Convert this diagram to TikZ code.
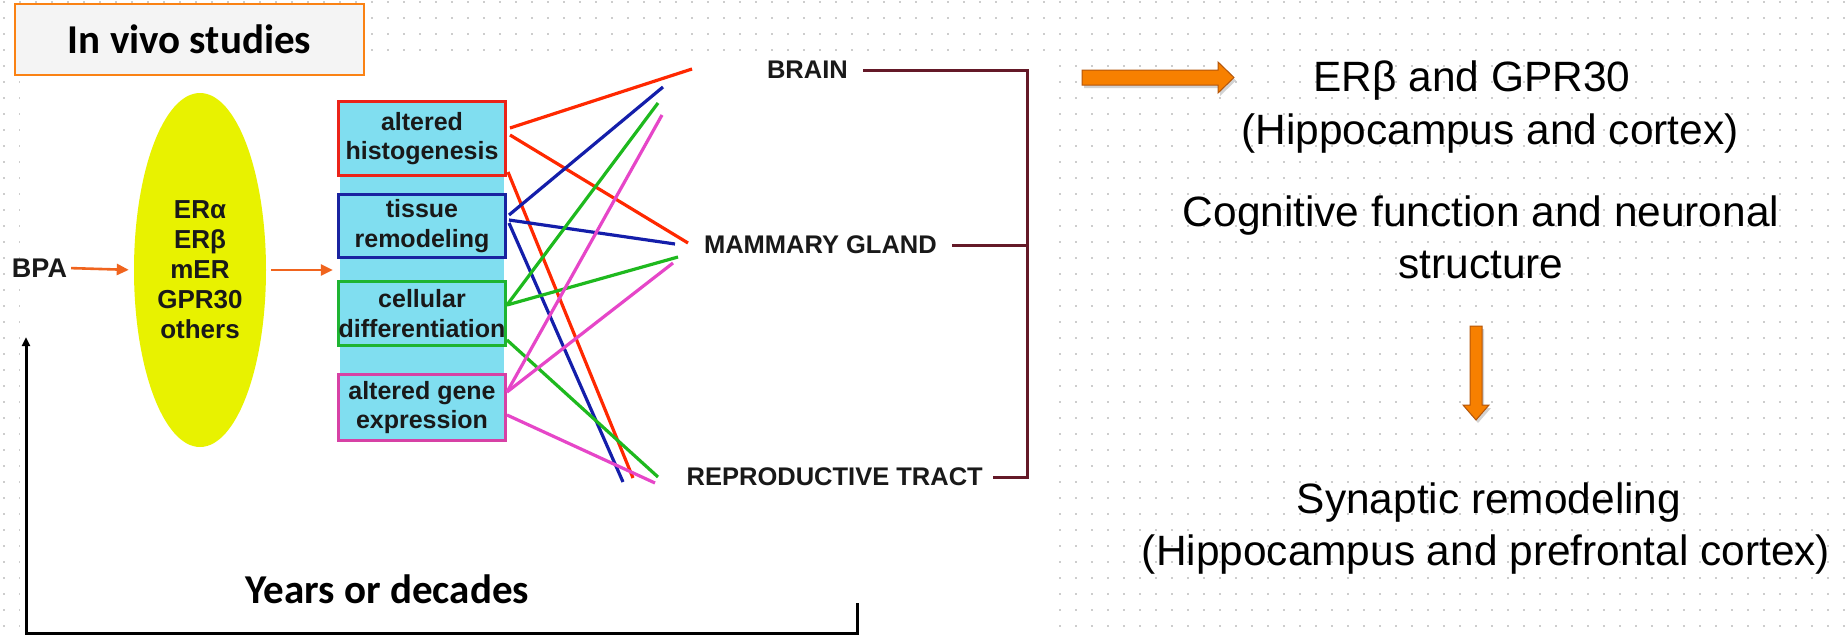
\documentclass[tikz,border=0pt]{standalone}
\usepackage{fontspec}
\setmainfont{Liberation Sans}
\newfontfamily\carlito{Carlito}
\usetikzlibrary{arrows.meta,shadows,calc,shapes.geometric}
\definecolor{yel}{RGB}{232,242,0}
\definecolor{cyanbox}{RGB}{128,222,240}
\definecolor{bred}{RGB}{235,35,25}
\definecolor{bblue}{RGB}{25,35,160}
\definecolor{bgreen}{RGB}{30,180,50}
\definecolor{bmag}{RGB}{215,65,165}
\definecolor{lred}{RGB}{255,40,0}
\definecolor{lblue}{RGB}{20,30,170}
\definecolor{lgreen}{RGB}{30,185,30}
\definecolor{lmag}{RGB}{230,70,200}
\definecolor{maroon}{RGB}{100,25,40}
\definecolor{aorange}{RGB}{240,100,30}
\definecolor{borange}{RGB}{247,128,0}
\definecolor{dorange}{RGB}{180,85,10}
\definecolor{dotgray}{RGB}{205,205,205}
\definecolor{vivoedge}{RGB}{250,130,20}
\definecolor{vivofill}{RGB}{244,244,244}
\definecolor{txt}{RGB}{25,25,25}
\begin{document}
\begin{tikzpicture}[x=1pt,y=-1pt,
  fx/.style={draw=#1, line width=3pt, fill=cyanbox, minimum width=167pt, inner sep=0pt, align=center, text=txt, font=\bfseries\fontsize{25}{29.5}\selectfont},
  cl/.style={draw=#1, line width=3.2pt},
  oarr/.style={draw=aorange, line width=2.6pt, -{Triangle[length=12pt,width=11pt]}},
  lab/.style={anchor=east, inner sep=0pt, text=txt, font=\bfseries\fontsize{25.5}{30}\selectfont},
  rtxt/.style={anchor=base, inner sep=0pt, font=\fontsize{42.4}{48}\selectfont},
  brk/.style={draw=maroon, line width=3pt},
  blockarrow/.style={fill=borange, draw=dorange, line width=1pt, drop shadow={opacity=0.35, shadow xshift=2pt, shadow yshift=-3pt}}
]
\useasboundingbox (0,0) rectangle (1847,637);
\fill[white] (0,0) rectangle (1847,637);
% dotted background
\foreach \k in {0,...,39}{
  \draw[dotgray, line width=1.6pt, dash pattern=on 1.6pt off 14.4pt] (3.2,2+16*\k) -- (1847,2+16*\k);
}
\fill[white] (20,58) rectangle (1045,637);

% In vivo box
\node[draw=vivoedge, line width=1.5pt, fill=vivofill, minimum width=349pt, minimum height=71pt, inner sep=0pt,
      font=\carlito\bfseries\fontsize{41}{45}\selectfont] (vivo) at (189.5,39.5) {In vivo studies};

% BPA and receptors
\node[inner sep=0pt, text=txt, font=\bfseries\fontsize{27}{32}\selectfont] (bpa) at (39.5,268) {BPA};
\node[ellipse, fill=yel, minimum width=132pt, minimum height=354pt, inner sep=0pt, align=center, text=txt,
      font=\bfseries\fontsize{26}{30}\selectfont] (ell) at (200,270) {ERα\\ERβ\\mER\\GPR30\\others};
\draw[oarr, shorten <=4pt, shorten >=5pt] (bpa.east) -- (ell.west);

% effects column
\node[fill=cyanbox, minimum width=164pt, minimum height=340pt, inner sep=0pt] (cbg) at (422,271) {};
\draw[oarr, shorten <=5pt, shorten >=7pt] (ell.east) -- (ell.east -| cbg.west);
\node[fx=bred, minimum height=74pt] (b1) at (422,138.5) {altered\\histogenesis};
\node[fx=bblue, minimum height=63pt] (b2) at (422,226) {tissue\\remodeling};
\node[fx=bgreen, minimum height=64pt] (b3) at (422,313.5) {cellular\\differentiation};
\node[fx=bmag, minimum height=66pt] (b4) at (422,407.5) {altered gene\\expression};

% organ labels
\node[lab] (brain) at (848,70) {BRAIN};
\node[lab] (mam) at (937,245) {MAMMARY GLAND};
\node[lab] (repro) at (983,477) {REPRODUCTIVE TRACT};

% line end points
\coordinate (tR) at (692,69);
\coordinate (tB) at (663,87);
\coordinate (tG) at (658,103);
\coordinate (tM) at (662,115);
\coordinate (mR) at (688,243);
\coordinate (mB) at (675,244);
\coordinate (mG) at (678,257);
\coordinate (mM) at (673,263);
\coordinate (rR) at (633,478);
\coordinate (rB) at (623,482);
\coordinate (rG) at (658,477);
\coordinate (rM) at (655,483);

% colored connections
\draw[cl=lred] ($(b1.east)+(3,-10.5)$) -- (tR);
\draw[cl=lred] ($(b1.east)+(3,-3.5)$) -- (mR);
\draw[cl=lred] ($(b1.east)+(1,33.5)$) -- (rR);
\draw[cl=lblue] ($(b2.east)+(2,-11)$) -- (tB);
\draw[cl=lblue] ($(b2.east)+(2,-6)$) -- (mB);
\draw[cl=lblue] ($(b2.east)+(2,-3)$) -- (rB);
\draw[cl=lgreen] ($(b3.east)+(0,-8.5)$) -- (tG);
\draw[cl=lgreen] ($(b3.east)+(0,-8.5)$) -- (mG);
\draw[cl=lgreen] ($(b3.east)+(0,26.5)$) -- (rG);
\draw[cl=lmag] ($(b4.east)+(0,-15.5)$) -- (tM);
\draw[cl=lmag] ($(b4.east)+(0,-15.5)$) -- (mM);
\draw[cl=lmag] ($(b4.east)+(0,7.5)$) -- (rM);

% bracket
\coordinate (bk) at (1027,0);
\draw[brk] ($(brain.east)+(15,0)$) -- (brain.east -| bk) -- (repro.east -| bk) -- ($(repro.east)+(10,0)$);
\draw[brk] ($(mam.east)+(15,0)$) -- (mam.east -| bk);

% feedback loop
\coordinate (fbRtop) at (857,603);
\coordinate (fbR) at (857,633);
\coordinate (fbL) at (26,633);
\coordinate (fbTop) at (26,337);
\draw[line width=3pt, -{Triangle[length=9pt,width=8pt]}] (fbRtop) -- (fbR) -- (fbL) -- (fbTop);
\node[anchor=base, inner sep=0pt, font=\carlito\bfseries\fontsize{41}{45}\selectfont] (years) at (387.5,603) {Years or decades};

% right side
\fill[blockarrow] (1082,70) -- (1218,70) -- (1218,62) -- (1234,77.5) -- (1218,93) -- (1218,85) -- (1082,85) -- cycle;
\node[rtxt] (erb) at (1472,91) {ERβ and GPR30};
\node[rtxt] (hc1) at (1490,144) {(Hippocampus and cortex)};
\node[rtxt] (cog) at (1481,226) {Cognitive function and neuronal};
\node[rtxt] (str) at (1481,278) {structure};
\fill[blockarrow] (1470,326) -- (1482,326) -- (1482,405) -- (1489,405) -- (1476,420) -- (1463,405) -- (1470,405) -- cycle;
\node[rtxt] (syn) at (1489,513) {Synaptic remodeling};
\node[rtxt] (hc2) at (1486,565) {(Hippocampus and prefrontal cortex)};
\end{tikzpicture}
\end{document}
